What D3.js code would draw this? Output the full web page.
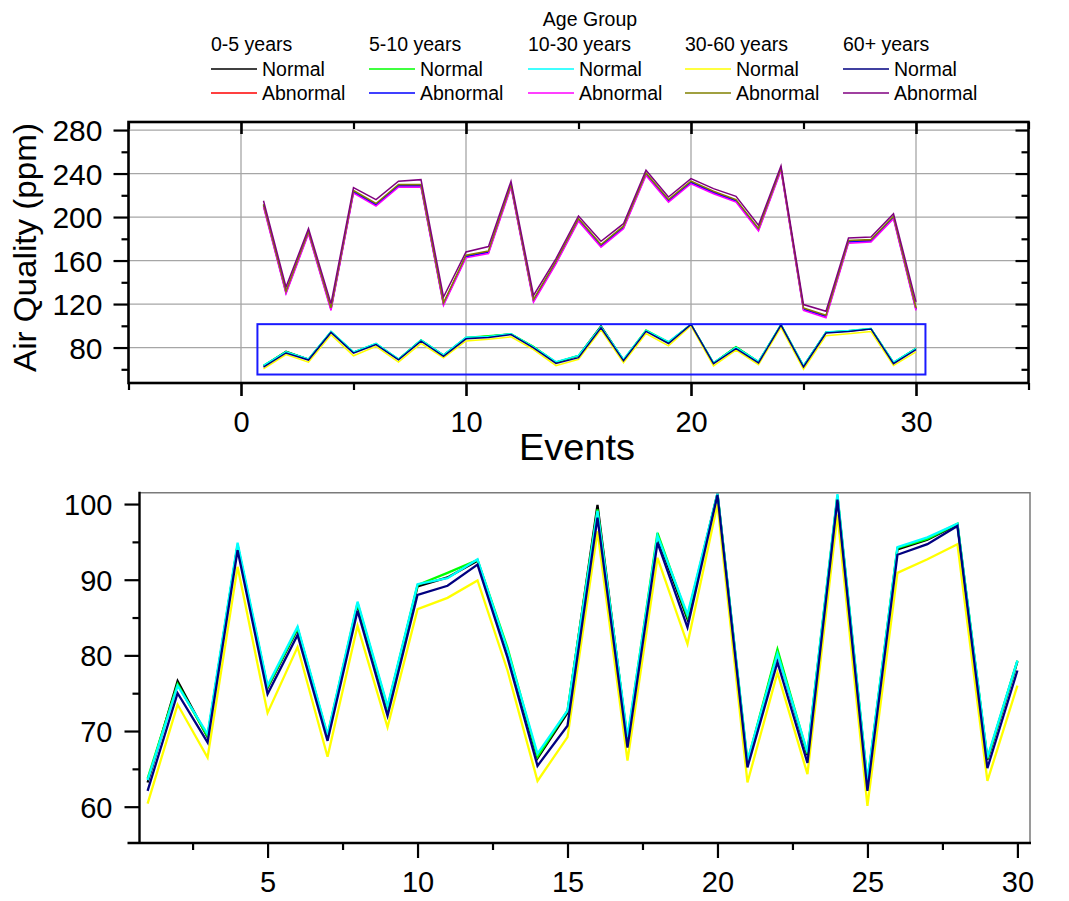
<!DOCTYPE html>
<html>
<head>
<meta charset="utf-8">
<script src="https://cdn.jsdelivr.net/npm/d3@7"></script>
<style>
  body { margin: 0; background: #fff; }
  svg { display: block; }
  text { font-family: "Liberation Sans", Arial, Helvetica, sans-serif; fill: #000; }
</style>
</head>
<body>
<svg id="chart" width="1069" height="901"></svg>
<script>
// ---- data ----
const events = [1,2,3,4,5,6,7,8,9,10,11,12,13,14,15,16,17,18,19,20,21,22,23,24,25,26,27,28,29,30];
const ageGroups = ["0-5 years", "5-10 years", "10-30 years", "30-60 years", "60+ years"];
const conditions = ["Normal", "Abnormal"];

// Normal readings (ppm)
const normal0_5   = [63.2,76.6,69.2,94.5,75.7,83.5,69.2,86.7,73.0,89.1,90.3,92.5,80.6,66.4,72.4,99.9,68.6,95.6,84.8,101.4,65.7,80.5,66.8,101.0,63.0,94.0,95.3,97.3,66.2,79.2];
const normal5_10  = [63.7,76.2,69.3,94.6,75.8,83.6,69.4,86.9,73.1,89.3,90.9,92.6,81.0,66.6,72.7,99.3,68.9,96.2,85.1,101.3,65.9,80.8,67.0,101.1,63.2,94.2,95.4,97.4,66.3,79.3];
const normal10_30 = [63.5,76.0,69.6,94.9,76.0,83.8,69.5,87.1,73.3,89.4,90.2,92.7,80.7,67.0,72.7,99.1,69.2,95.8,85.4,101.4,66.1,80.2,67.2,101.3,63.4,94.3,95.6,97.4,66.5,79.3];
const normal30_60 = [60.4,73.5,66.5,91.7,72.4,81.1,66.6,83.9,70.5,86.1,87.6,89.9,78.0,63.4,69.2,96.4,66.1,92.9,81.5,100.0,63.2,77.7,64.3,98.6,60.1,90.9,92.7,94.7,63.4,76.0];
const normal60p   = [62.1,75.0,68.5,93.9,74.9,82.7,68.7,85.9,72.0,88.0,89.2,92.0,79.7,65.4,70.7,98.2,67.8,94.9,83.7,101.2,65.2,79.1,65.8,100.6,62.1,93.3,94.7,97.1,65.1,78.0];

// Abnormal readings (ppm)
const abnormal0_5   = [211.1,131.0,186.2,115.7,223.6,211.7,229.1,229.1,120.3,164.1,168.1,229.1,123.4,158.6,197.8,173.9,190.8,239.8,215.3,232.2,223.0,215.3,188.7,244.4,115.7,109.0,177.6,178.6,200.0,115.7];
const abnormal5_10  = [210.5,130.4,185.6,115.1,223.0,211.1,228.5,228.5,119.7,163.5,167.5,228.5,122.8,158.0,197.2,173.3,190.2,239.2,214.7,231.6,222.4,214.7,188.1,243.8,115.1,108.4,177.0,178.0,199.4,115.1];
const abnormal10_30 = [209.5,129.4,184.6,114.1,222.0,210.1,227.5,227.5,118.7,162.5,166.5,227.5,121.8,157.0,196.2,172.3,189.2,238.2,213.7,230.6,221.4,213.7,187.1,242.8,114.1,107.4,176.0,177.0,198.4,114.1];
const abnormal30_60 = [211.9,131.8,187.0,116.5,224.4,212.5,229.9,229.9,121.1,164.9,168.9,229.9,124.2,159.4,198.6,174.7,191.6,240.6,216.1,233.0,223.8,216.1,189.5,245.2,116.5,109.8,178.4,179.4,200.8,116.5];
const abnormal60p   = [215.0,135.7,189.3,120.4,227.0,216.0,232.9,234.4,126.5,167.9,172.9,232.9,128.0,161.8,201.0,177.7,193.9,243.0,218.4,235.3,226.1,219.1,192.4,247.0,119.5,113.3,180.8,181.7,203.1,122.0];

const normalColors   = ["#000000", "#00ff00", "#00ffff", "#ffff00", "#000080"];
const abnormalColors = ["#ff0000", "#0000ff", "#ff00ff", "#808000", "#800080"];

// axis ranges
const topXDomain = [-5, 35];
const topYDomain = [47.4, 287.4];
const zoomXDomain = [0.73, 30.42];
const zoomYDomain = [55.2, 101.5];
const topXMajor = [0, 10, 20, 30];
const topXMinor = [-5, 5, 15, 25, 35];
const topYMajor = [80, 120, 160, 200, 240, 280];
const topYMinor = [60, 100, 140, 180, 220, 260];
const zoomXMajor = [5, 10, 15, 20, 25, 30];
const zoomXMinor = [2.5, 7.5, 12.5, 17.5, 22.5, 27.5];
const zoomYMajor = [60, 70, 80, 90, 100];
const zoomYMinor = [65, 75, 85, 95];

const normalSeries = [normal0_5, normal5_10, normal10_30, normal30_60, normal60p];
const abnormalSeries = [abnormal0_5, abnormal5_10, abnormal10_30, abnormal30_60, abnormal60p];

// draw order: age group by age group, normal then abnormal
const allSeries = [];
ageGroups.forEach((g, i) => {
  allSeries.push({ values: normalSeries[i], color: normalColors[i] });
  allSeries.push({ values: abnormalSeries[i], color: abnormalColors[i] });
});

const svg = d3.select("#chart");
const FONT = "Liberation Sans, Arial, sans-serif";

// ---- legend ----
const legend = svg.append("g").attr("font-size", 19.5);
legend.append("text").attr("x", 590).attr("y", 26).attr("text-anchor", "middle").text("Age Group");
const colX = [211, 369, 528, 685, 843];
ageGroups.forEach((g, i) => {
  const gx = colX[i];
  legend.append("text").attr("x", gx).attr("y", 51).text(g);
  [[normalColors[i], 69], [abnormalColors[i], 93]].forEach(([c, ly], k) => {
    legend.append("line").attr("x1", gx).attr("x2", gx + 46).attr("y1", ly).attr("y2", ly)
      .attr("stroke", c).attr("stroke-width", 1.6);
    legend.append("text").attr("x", gx + 51).attr("y", ly + 7).text(conditions[k]);
  });
});

function styleAxis(g, w) {
  g.select(".domain").remove();
  g.selectAll(".tick line").attr("stroke", "#000").attr("stroke-width", w);
}

// ---- upper panel ----
const x1 = d3.scaleLinear().domain(topXDomain).range([128.5, 1028.5]);
const y1 = d3.scaleLinear().domain(topYDomain).range([383, 122]);
const upper = svg.append("g");

// grid
upper.append("g").selectAll("line").data(topYMajor).join("line")
  .attr("x1", x1.range()[0]).attr("x2", x1.range()[1])
  .attr("y1", d => y1(d)).attr("y2", d => y1(d))
  .attr("stroke", "#a6a6a6").attr("stroke-width", 1.3);
upper.append("g").selectAll("line").data(topXMajor).join("line")
  .attr("y1", y1.range()[0]).attr("y2", y1.range()[1])
  .attr("x1", d => x1(d)).attr("x2", d => x1(d))
  .attr("stroke", "#a6a6a6").attr("stroke-width", 1.3);

// series
const line1 = d3.line().x((d, i) => x1(events[i])).y(d => y1(d));
upper.append("g").selectAll("path").data(allSeries).join("path")
  .attr("d", d => line1(d.values))
  .attr("fill", "none").attr("stroke", d => d.color).attr("stroke-width", 1.5)
  .attr("stroke-linejoin", "miter");

// zoom region marker
upper.append("rect")
  .attr("x", x1(zoomXDomain[0])).attr("y", y1(zoomYDomain[1]))
  .attr("width", x1(zoomXDomain[1]) - x1(zoomXDomain[0]))
  .attr("height", y1(zoomYDomain[0]) - y1(zoomYDomain[1]))
  .attr("fill", "none").attr("stroke", "#1a1aff").attr("stroke-width", 2);

// left axis
upper.append("g").attr("transform", `translate(${x1.range()[0]},0)`)
  .call(d3.axisLeft(y1).tickValues(topYMinor).tickSize(7).tickFormat(""))
  .call(g => styleAxis(g, 2.2));
upper.append("g").attr("transform", `translate(${x1.range()[0]},0)`)
  .call(d3.axisLeft(y1).tickValues(topYMajor).tickSize(15).tickPadding(11).tickFormat(d3.format("d")))
  .call(g => styleAxis(g, 2.2))
  .call(g => g.selectAll("text").attr("font-size", 30).attr("font-family", FONT).attr("dy", "0.36em"));
// right axis (inward)
upper.append("g").attr("transform", `translate(${x1.range()[1]},0)`)
  .call(d3.axisLeft(y1).tickValues(topYMinor).tickSize(7).tickFormat(""))
  .call(g => styleAxis(g, 2.2));
upper.append("g").attr("transform", `translate(${x1.range()[1]},0)`)
  .call(d3.axisLeft(y1).tickValues(topYMajor).tickSize(13).tickFormat(""))
  .call(g => styleAxis(g, 2.2));
// bottom axis
upper.append("g").attr("transform", `translate(0,${y1.range()[0]})`)
  .call(d3.axisBottom(x1).tickValues(topXMinor).tickSize(7).tickFormat(""))
  .call(g => styleAxis(g, 2.2));
upper.append("g").attr("transform", `translate(0,${y1.range()[0]})`)
  .call(d3.axisBottom(x1).tickValues(topXMajor).tickSize(13).tickPadding(15).tickFormat(d3.format("d")))
  .call(g => styleAxis(g, 2.6))
  .call(g => g.selectAll("text").attr("font-size", 29).attr("font-family", FONT));
// top axis (inward)
upper.append("g").attr("transform", `translate(0,${y1.range()[1]})`)
  .call(d3.axisBottom(x1).tickValues(topXMinor).tickSize(7).tickFormat(""))
  .call(g => styleAxis(g, 2.2));
upper.append("g").attr("transform", `translate(0,${y1.range()[1]})`)
  .call(d3.axisBottom(x1).tickValues(topXMajor).tickSize(12).tickFormat(""))
  .call(g => styleAxis(g, 2.6));

// frame
upper.append("rect")
  .attr("x", x1.range()[0]).attr("y", y1.range()[1])
  .attr("width", x1.range()[1] - x1.range()[0]).attr("height", y1.range()[0] - y1.range()[1])
  .attr("fill", "none").attr("stroke", "#000").attr("stroke-width", 2.6);

// axis titles
svg.append("text").attr("transform", "translate(36,247.5) rotate(-90)")
  .attr("text-anchor", "middle").attr("font-size", 31)
  .attr("textLength", 249).attr("lengthAdjust", "spacingAndGlyphs")
  .text("Air Quality (ppm)");
svg.append("text").attr("x", 577).attr("y", 460)
  .attr("text-anchor", "middle").attr("font-size", 36)
  .attr("textLength", 116).attr("lengthAdjust", "spacingAndGlyphs")
  .text("Events");

// ---- lower (zoomed) panel ----
const x2 = d3.scaleLinear().domain(zoomXDomain).range([139.5, 1030]);
const y2 = d3.scaleLinear().domain(zoomYDomain).range([843, 492.7]);
const lower = svg.append("g");

svg.append("defs").append("clipPath").attr("id", "zoomClip")
  .append("rect").attr("x", x2.range()[0]).attr("y", y2.range()[1])
  .attr("width", x2.range()[1] - x2.range()[0]).attr("height", y2.range()[0] - y2.range()[1]);

const line2 = d3.line().x((d, i) => x2(events[i])).y(d => y2(d));
lower.append("g").attr("clip-path", "url(#zoomClip)")
  .selectAll("path").data(normalSeries).join("path")
  .attr("d", d => line2(d))
  .attr("fill", "none").attr("stroke", (d, i) => normalColors[i]).attr("stroke-width", 2.3)
  .attr("stroke-linejoin", "miter");

// top and right border (light)
lower.append("path")
  .attr("d", `M${x2.range()[0]},${y2.range()[1]}H${x2.range()[1]}V${y2.range()[0]}`)
  .attr("fill", "none").attr("stroke", "#7a7a7a").attr("stroke-width", 1.5);

// left axis
lower.append("g").attr("transform", `translate(${x2.range()[0]},0)`)
  .call(d3.axisLeft(y2).tickValues(zoomYMinor).tickSize(7).tickFormat(""))
  .call(g => styleAxis(g, 2.2));
lower.append("g").attr("transform", `translate(${x2.range()[0]},0)`)
  .call(d3.axisLeft(y2).tickValues(zoomYMajor).tickSize(15).tickPadding(12).tickFormat(d3.format("d")))
  .call(g => styleAxis(g, 2.2))
  .call(g => g.selectAll("text").attr("font-size", 29).attr("font-family", FONT).attr("dy", "0.36em"));
lower.append("line").attr("x1", x2.range()[0]).attr("x2", x2.range()[0])
  .attr("y1", y2.range()[1] - 1).attr("y2", y2.range()[0] + 1)
  .attr("stroke", "#000").attr("stroke-width", 2.4);
// bottom axis
lower.append("g").attr("transform", `translate(0,${y2.range()[0]})`)
  .call(d3.axisBottom(x2).tickValues(zoomXMinor).tickSize(7).tickFormat(""))
  .call(g => styleAxis(g, 2.2));
lower.append("g").attr("transform", `translate(0,${y2.range()[0]})`)
  .call(d3.axisBottom(x2).tickValues(zoomXMajor).tickSize(15).tickPadding(13).tickFormat(d3.format("d")))
  .call(g => styleAxis(g, 2.2))
  .call(g => g.selectAll("text").attr("font-size", 29).attr("font-family", FONT));
lower.append("line").attr("x1", x2.range()[0] - 12).attr("x2", x2.range()[1] + 1)
  .attr("y1", y2.range()[0]).attr("y2", y2.range()[0])
  .attr("stroke", "#000").attr("stroke-width", 2.4);
</script>
</body>
</html>
